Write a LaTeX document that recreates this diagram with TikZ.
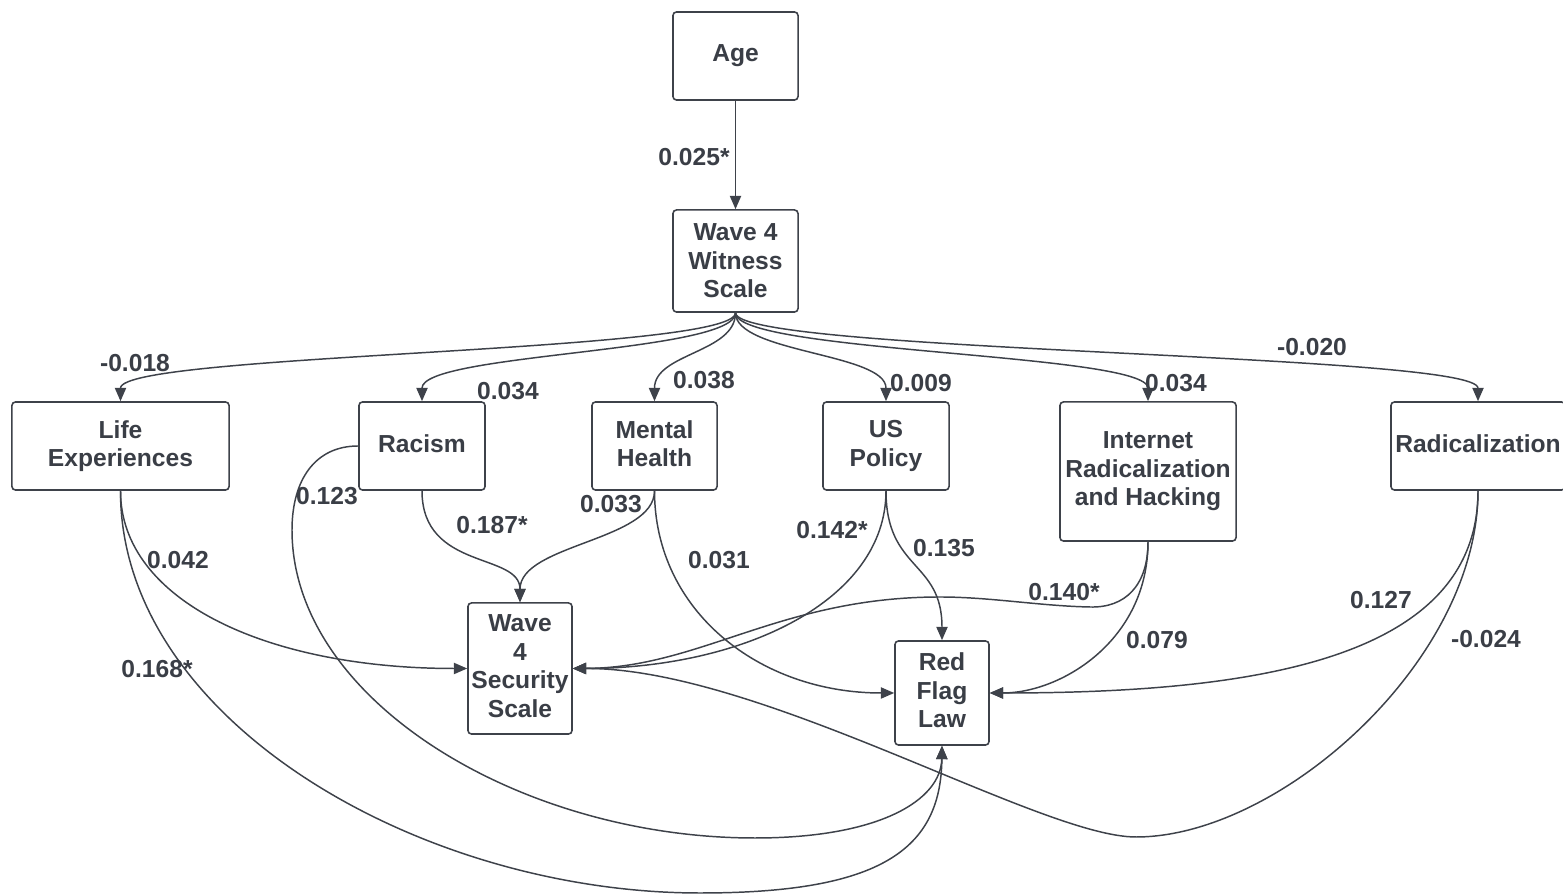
\documentclass[tikz,border=0pt]{standalone}
\usepackage{fontspec}
\setmainfont{Liberation Sans}
\usetikzlibrary{arrows.meta}
\definecolor{inkc}{RGB}{58,62,70}
\definecolor{linec}{RGB}{62,66,74}

\begin{document}
\begin{tikzpicture}[x=0.01cm,y=-0.01cm,
  every node/.style={text=inkc, font=\fontsize{7}{8.1}\selectfont\bfseries},
  box/.style={draw=linec, line width=0.45pt, rounded corners=1pt, fill=white, align=center, inner sep=0pt},
  coef/.style={inner sep=0pt},
  link/.style={draw=linec, line width=0.42pt, -{Triangle[length=3.8pt,width=3.2pt]}}]
\useasboundingbox (0,0) rectangle (1563,895);

% variables
\node[box, minimum width=1.25cm, minimum height=0.88cm] (age) at (735.5,56) {Age};
\node[box, minimum width=1.25cm, minimum height=1.02cm] (wit) at (735.5,261) {Wave 4\\Witness\\Scale};
\node[box, minimum width=2.17cm, minimum height=0.88cm] (life) at (120.5,446) {Life\\Experiences};
\node[box, minimum width=1.26cm, minimum height=0.88cm] (rac) at (422,446) {Racism\vphantom{g}};
\node[box, minimum width=1.25cm, minimum height=0.88cm] (mh) at (654.5,446) {Mental\\Health\vphantom{g}};
\node[box, minimum width=1.26cm, minimum height=0.88cm] (usp) at (886,446) {US\\Policy};
\node[box, minimum width=1.76cm, minimum height=1.39cm] (irh) at (1148,471.5) {Internet\\Radicalization\\and Hacking};
\node[box, minimum width=1.74cm, minimum height=0.88cm] (rad) at (1478,446) {Radicalization\vphantom{g}};
\node[box, minimum width=1.04cm, minimum height=1.31cm] (sec) at (520,668.5) {Wave\\4\\Security\\Scale\vphantom{g}};
\node[box, minimum width=0.94cm, minimum height=1.04cm] (rfl) at (942,693) {Red\\Flag\\Law\vphantom{g}};

% age to witness
\draw[link] (age.south) -- (wit.north);

% witness fan
\draw[link] (wit.south) .. controls +(0,40) and +(0,-48) .. (life.north);
\draw[link] (wit.south) .. controls +(0,40) and +(0,-48) .. (rac.north);
\draw[link] (wit.south) .. controls +(0,40) and +(0,-48) .. (mh.north);
\draw[link] (wit.south) .. controls +(0,40) and +(0,-48) .. (usp.north);
\draw[link] (wit.south) .. controls +(0,40) and +(0,-48) .. (irh.north);
\draw[link] (wit.south) .. controls +(0,40) and +(0,-48) .. (rad.north);

% paths to the outcomes
\draw[link] (life.south) .. controls +(0,110) and +(-200,0) .. (sec.west);
\draw[link] (life.south) .. controls (120,720) and (420,893) .. (700,893)
  .. controls (880,893) and (941,850) .. (rfl.south);
\draw[link] (rac.west) .. controls (315,446) and (292,480) .. (292,530)
  .. controls (292,700) and (520,838) .. (755,838)
  .. controls (880,838) and (941,800) .. (rfl.south);
\draw[link] (rac.south) .. controls +(0,80) and +(0,-50) .. (sec.north);
\draw[link] (mh.south) .. controls +(0,50) and +(0,-58) .. (sec.north);
\draw[link] (mh.south) .. controls +(0,120) and +(-135,0) .. (rfl.west);
\draw[link] (usp.south) .. controls +(0,110) and +(170,0) .. (sec.east);
\draw[link] (usp.south) .. controls +(0,80) and +(0,-80) .. (rfl.north);
\draw[link] (irh.south) .. controls +(0,44) and (1125,608) .. (1090,607)
  .. controls (1040,606) and (990,597) .. (940,597)
  .. controls (780,597) and (700,668) .. (sec.east);
\draw[link] (irh.south) .. controls +(0,99) and +(71,0) .. (rfl.east);
\draw[link] (rad.south) .. controls +(0,170) and +(261,0) .. (rfl.east);
\draw[link] (rad.south) .. controls +(0,170) and (1280,837) .. (1136,837)
  .. controls (1040,837) and (760,668) .. (sec.east);

% coefficients
\node[coef] (c1) at (694,157) {0.025*};
\node[coef] (c2) at (135,363) {-0.018};
\node[coef] (c3) at (508,391) {0.034};
\node[coef] (c4) at (704,380) {0.038};
\node[coef] (c5) at (921,383) {0.009};
\node[coef] (c6) at (1176,383) {0.034};
\node[coef] (c7) at (1312,347) {-0.020};
\node[coef] (c8) at (327,496) {0.123};
\node[coef] (c9) at (492,525) {0.187*};
\node[coef] (c10) at (611,504) {0.033};
\node[coef] (c11) at (178,560) {0.042};
\node[coef] (c12) at (719,560) {0.031};
\node[coef] (c13) at (832,530) {0.142*};
\node[coef] (c14) at (944,548) {0.135};
\node[coef] (c15) at (1064,592) {0.140*};
\node[coef] (c16) at (1157,640) {0.079};
\node[coef] (c17) at (1381,600) {0.127};
\node[coef] (c18) at (1486,639) {-0.024};
\node[coef] (c19) at (157,669) {0.168*};
\end{tikzpicture}
\end{document}
